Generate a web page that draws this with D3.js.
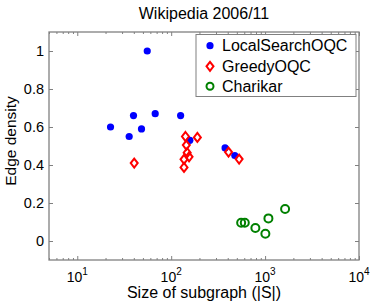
<!DOCTYPE html>
<html>
<head>
<meta charset="utf-8">
<script src="https://cdn.jsdelivr.net/npm/d3@7"></script>
<style>
  body { margin: 0; background: #fff; }
  text { font-family: "Liberation Sans", Arial, sans-serif; fill: #000; }
</style>
</head>
<body>
<svg id="chart" width="374" height="303"></svg>
<script>
// data
var localX = [22.6, 35.7, 39.7, 48.3, 55.6, 67.6, 126, 158, 375, 476];
var localY = [0.60, 0.55, 0.66, 0.59, 1.00, 0.67, 0.66, 0.53, 0.49, 0.45];

var greedyX = [40.4, 142, 145, 148, 137, 155, 137, 190, 408, 529];
var greedyY = [0.41, 0.55, 0.505, 0.465, 0.43, 0.443, 0.387, 0.545, 0.468, 0.431];

var charikarX = [556, 608, 788, 1007, 1085, 1633];
var charikarY = [0.096, 0.096, 0.068, 0.038, 0.119, 0.168];

var yTicks = [0, 0.2, 0.4, 0.6, 0.8, 1];
var xTicks = [10, 100, 1000, 10000];
var seriesNames = ["LocalSearchOQC", "GreedyOQC", "Charikar"];

var margin = {left: 49, right: 15, top: 32, bottom: 43};
var W = 374, H = 303;

var svg = d3.select('#chart');

var x = d3.scaleLog()
    .domain([5, 10000])
    .range([margin.left, W - margin.right]);

var y = d3.scaleLinear()
    .domain([-0.1, 1.1])
    .range([H - margin.bottom, margin.top]);

var frameColor = '#808080';

// minor ticks for the log axis
var minor = [];
[1, 10, 100, 1000].forEach(function(d) {
    for (var k = 2; k <= 9; k++) {
        var v = d * k;
        if (v >= 5 && v <= 10000) minor.push(v);
    }
});

// bottom + top axis
var gxb = svg.append('g')
    .attr('transform', 'translate(0,' + y.range()[0] + ')')
    .call(d3.axisBottom(x).tickValues(xTicks).tickSize(-4).tickFormat(''));
gxb.append('g').call(d3.axisBottom(x).tickValues(minor).tickSize(-2).tickFormat(''));

var gxt = svg.append('g')
    .attr('transform', 'translate(0,' + y.range()[1] + ')')
    .call(d3.axisTop(x).tickValues(xTicks).tickSize(-4).tickFormat(''));
gxt.append('g').call(d3.axisTop(x).tickValues(minor).tickSize(-2).tickFormat(''));

var gyl = svg.append('g')
    .attr('transform', 'translate(' + x.range()[0] + ',0)')
    .call(d3.axisLeft(y).tickValues(yTicks).tickSize(-4).tickPadding(6).tickFormat(d3.format('~g')));

var gyr = svg.append('g')
    .attr('transform', 'translate(' + x.range()[1] + ',0)')
    .call(d3.axisRight(y).tickValues(yTicks).tickSize(-4).tickFormat(''));

svg.selectAll('.domain').remove();
svg.selectAll('.tick line').attr('stroke', frameColor);
gyl.selectAll('.tick text')
    .style('font-size', '14.5px')
    .style('font-family', '"Liberation Sans", Arial, sans-serif')
    .attr('x', -5)
    .attr('fill', '#000');

// x tick labels with superscript exponents
xTicks.forEach(function(v) {
    var t = svg.append('text')
        .attr('x', x(v))
        .attr('y', 281.5)
        .attr('text-anchor', 'middle')
        .style('font-size', '14px');
    t.append('tspan').text('10');
    t.append('tspan')
        .attr('dy', -7)
        .style('font-size', '10px')
        .text(Math.round(Math.log10(v)));
});

// frame
svg.append('rect')
    .attr('x', x.range()[0])
    .attr('y', y.range()[1])
    .attr('width', x.range()[1] - x.range()[0])
    .attr('height', y.range()[0] - y.range()[1])
    .attr('fill', 'none')
    .attr('stroke', frameColor)
    .attr('stroke-width', 1.3);

// title + labels
svg.append('text')
    .attr('x', (x.range()[0] + x.range()[1]) / 2)
    .attr('y', 18.7)
    .attr('text-anchor', 'middle')
    .style('font-size', '16px')
    .text('Wikipedia 2006/11');

svg.append('text')
    .attr('x', (x.range()[0] + x.range()[1]) / 2)
    .attr('y', 298)
    .attr('text-anchor', 'middle')
    .style('font-size', '16px')
    .text('Size of subgraph (|S|)');

svg.append('text')
    .attr('transform', 'translate(15.5,141) rotate(-90)')
    .attr('text-anchor', 'middle')
    .style('font-size', '15.5px')
    .text('Edge density');

// marks
function diamond(g, cx, cy) {
    g.append('path')
        .attr('d', 'M' + cx + ',' + (cy - 4.5) + 'L' + (cx + 3.5) + ',' + cy +
                   'L' + cx + ',' + (cy + 4.5) + 'L' + (cx - 3.5) + ',' + cy + 'Z')
        .attr('fill', 'none')
        .attr('stroke', '#ff0000')
        .attr('stroke-width', 2);
}

var marks = svg.append('g');

marks.selectAll('circle.cha')
    .data(d3.range(charikarX.length))
    .enter().append('circle')
    .attr('class', 'cha')
    .attr('cx', function(i) { return x(charikarX[i]); })
    .attr('cy', function(i) { return y(charikarY[i]); })
    .attr('r', 4)
    .attr('fill', 'none')
    .attr('stroke', '#008000')
    .attr('stroke-width', 2);

marks.selectAll('circle.loc')
    .data(d3.range(localX.length))
    .enter().append('circle')
    .attr('class', 'loc')
    .attr('cx', function(i) { return x(localX[i]); })
    .attr('cy', function(i) { return y(localY[i]); })
    .attr('r', 3.6)
    .attr('fill', '#0000ff');

greedyX.forEach(function(v, i) {
    diamond(marks, x(v), y(greedyY[i]));
});

// legend
var lg = svg.append('g');
lg.append('rect')
    .attr('x', 196)
    .attr('y', 34.5)
    .attr('width', 160)
    .attr('height', 62)
    .attr('fill', '#fff')
    .attr('stroke', frameColor)
    .attr('stroke-width', 1);

var rowY = [45.7, 66.3, 86.3];
lg.append('circle').attr('cx', 210).attr('cy', rowY[0]).attr('r', 3.6).attr('fill', '#0000ff');
diamond(lg, 210, rowY[1]);
lg.append('circle').attr('cx', 210).attr('cy', rowY[2]).attr('r', 3.5)
    .attr('fill', 'none').attr('stroke', '#008000').attr('stroke-width', 2);

seriesNames.forEach(function(n, i) {
    lg.append('text')
        .attr('x', 222)
        .attr('y', rowY[i] + 5.5)
        .style('font-size', '16px')
        .text(n);
});
</script>
</body>
</html>
